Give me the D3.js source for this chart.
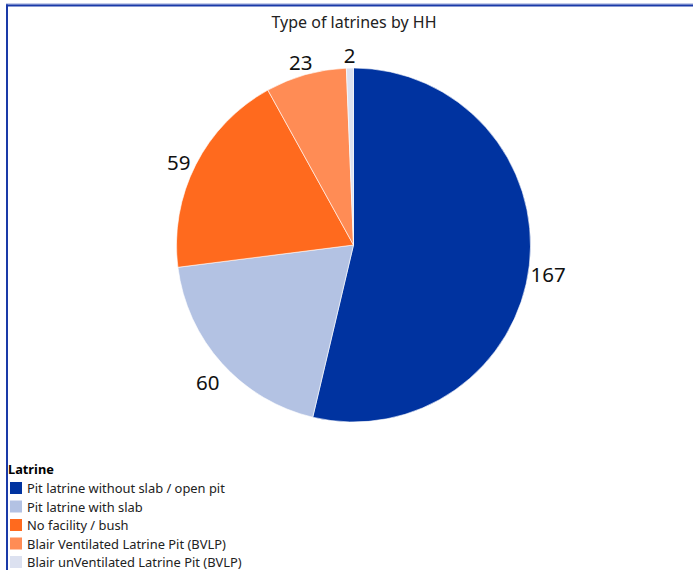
<!DOCTYPE html>
<html>
<head>
<meta charset="utf-8">
<script src="https://cdn.jsdelivr.net/npm/d3@7"></script>
<style>
  html, body { margin: 0; padding: 0; background: #fff; }
  svg { display: block; font-family: "Noto Sans", "Open Sans", sans-serif; }
</style>
</head>
<body>
<svg id="chart" width="693" height="570"></svg>
<script>
// Household latrine types
const categories = [
  "Pit latrine without slab / open pit",
  "Pit latrine with slab",
  "No facility / bush",
  "Blair Ventilated Latrine Pit (BVLP)",
  "Blair unVentilated Latrine Pit (BVLP)"
];
const counts = [167, 60, 59, 23, 2];
const colors = ["#0033a0", "#b3c2e3", "#ff6a1e", "#ff8c55", "#dce1f0"];

const chartTitle = "Type of latrines by HH";
const legendTitle = "Latrine";

const svg = d3.select("#chart");
const W = 693, H = 570;

// Frame lines along top and left edges
svg.append("line").attr("x1", 6).attr("x2", W).attr("y1", 4).attr("y2", 4)
  .attr("stroke", "#8a9ad6").attr("stroke-width", 1);
svg.append("line").attr("x1", 6).attr("x2", W).attr("y1", 5.5).attr("y2", 5.5)
  .attr("stroke", "#1a3aa8").attr("stroke-width", 2);
svg.append("line").attr("x1", 7).attr("x2", 7).attr("y1", 4.5).attr("y2", H)
  .attr("stroke", "#1a3aa8").attr("stroke-width", 2);

svg.append("text")
  .attr("x", 354).attr("y", 28)
  .attr("text-anchor", "middle")
  .attr("font-size", 16)
  .attr("fill", "#222")
  .text(chartTitle);

const data = categories.map((c, i) => ({ name: c, value: counts[i], color: colors[i] }));

const cx = 353.5, cy = 245, R = 177;
const pie = d3.pie().value(d => d.value).sort(null);
const arc = d3.arc().innerRadius(0).outerRadius(R);
const labelArc = d3.arc().innerRadius(196).outerRadius(196);

const g = svg.append("g").attr("transform", `translate(${cx},${cy})`);
const arcs = pie(data);

g.selectAll("path.slice")
  .data(arcs)
  .join("path")
  .attr("class", "slice")
  .attr("d", arc)
  .attr("fill", d => d.data.color)
  .attr("stroke", "#fff")
  .attr("stroke-width", 0.6);

// Value labels sit just outside the rim, a little below the mid-angle point
g.selectAll("text.lbl")
  .data(arcs)
  .join("text")
  .attr("class", "lbl")
  .attr("transform", d => {
    const [x, y] = labelArc.centroid(d);
    return `translate(${x},${y + 6})`;
  })
  .attr("text-anchor", "middle")
  .attr("dominant-baseline", "central")
  .attr("font-size", 20.5)
  .attr("fill", "#111")
  .text(d => d.data.value);

// Legend
const lg = svg.append("g").attr("transform", "translate(8,469)");
lg.append("text")
  .attr("x", 0).attr("y", 5)
  .attr("font-size", 12.8)
  .attr("font-weight", "bold")
  .attr("fill", "#000")
  .text(legendTitle);

const item = lg.selectAll("g.item")
  .data(data)
  .join("g")
  .attr("class", "item")
  .attr("transform", (d, i) => `translate(0,${19 + i * 18.5})`);

item.append("rect")
  .attr("x", 2).attr("y", -6)
  .attr("width", 12).attr("height", 12)
  .attr("fill", d => d.color);

item.append("text")
  .attr("x", 19).attr("y", 0)
  .attr("dominant-baseline", "central")
  .attr("font-size", 12.9)
  .attr("fill", "#222")
  .text(d => d.name);
</script>
</body>
</html>
